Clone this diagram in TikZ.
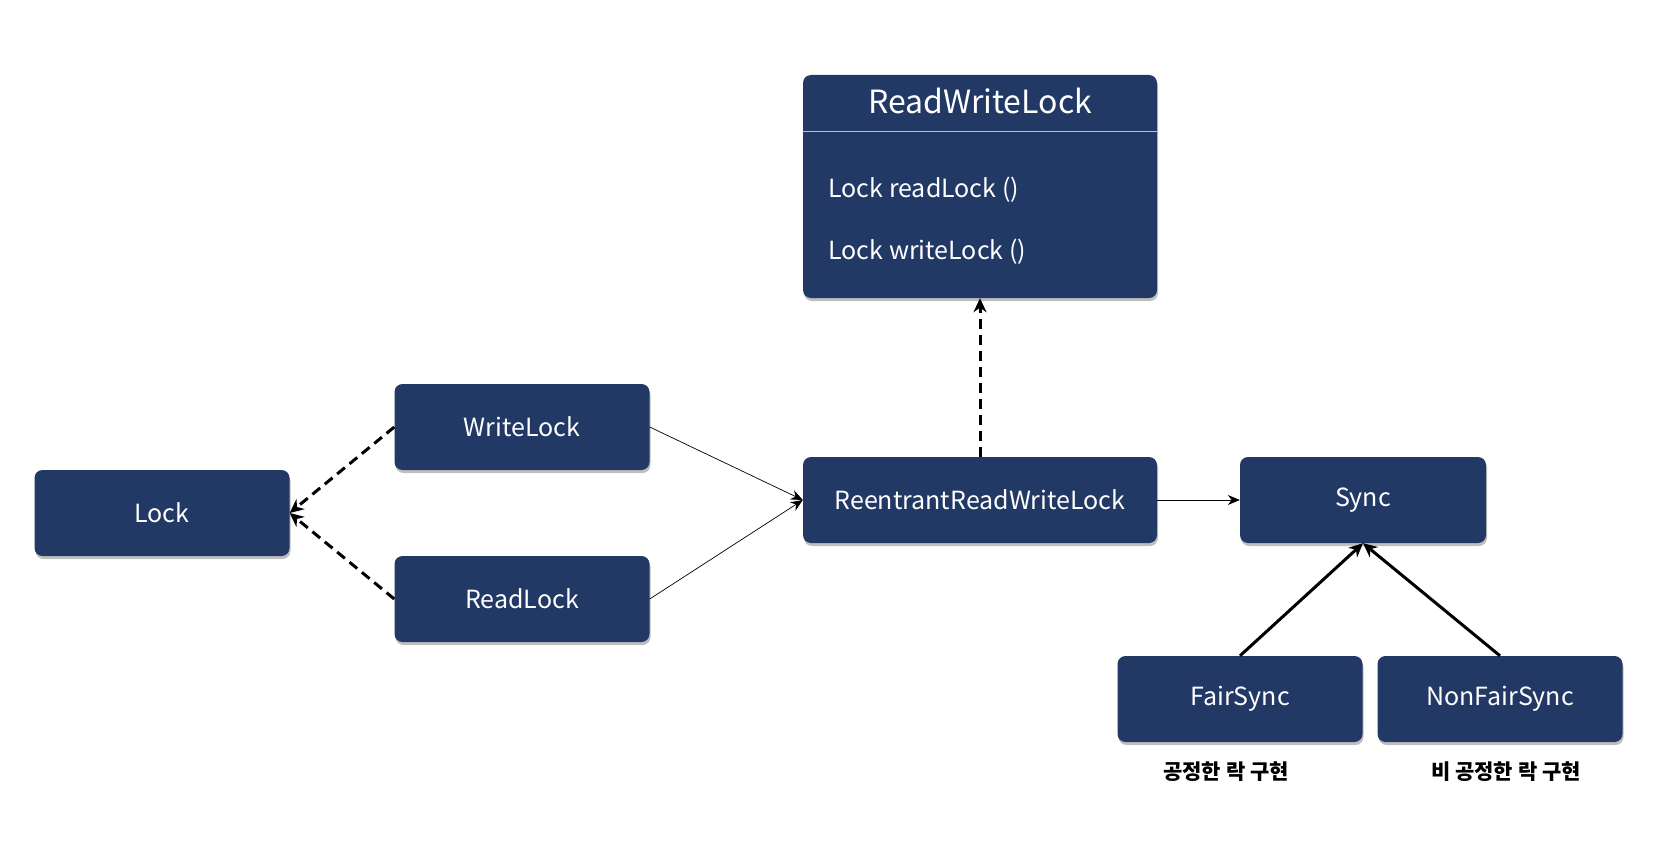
\documentclass[tikz,border=0pt]{standalone}
\usepackage{fontspec}
\setmainfont{Noto Sans CJK KR}
\usetikzlibrary{arrows.meta,shadows}

\begin{document}
\begin{tikzpicture}[x=1pt,y=-1pt,
  box/.style={rectangle,rounded corners=8pt,fill=lk_navy,text=white,
    minimum width=255pt,minimum height=86pt,inner sep=0pt,
    font=\fontsize{25}{30}\selectfont,
    drop shadow={opacity=0.25,shadow xshift=1pt,shadow yshift=-3pt,fill=black}},
  implements/.style={line width=3pt,dash pattern=on 10pt off 6pt,-{Stealth[length=14pt,width=13pt]}},
  uses/.style={line width=0.7pt,-{Stealth[length=12pt,width=10pt]}},
  extends/.style={line width=3pt,-{Stealth[length=14pt,width=13pt]}},
  note/.style={font=\fontsize{21}{24}\selectfont\bfseries,text=black}]
% ------------------------------------------------ colors
\definecolor{lk_navy}{RGB}{34,56,101}  %#223865
\definecolor{lk_line}{RGB}{170,190,225}

\useasboundingbox (0,0) rectangle (1669,856);

% ------------------------------------------------ interface box
\node[box,minimum width=354pt,minimum height=223pt] (rwl) at (980,186.5) {};
\node[text=white,font=\fontsize{32}{36}\selectfont] (rwltitle) at (980,101) {ReadWriteLock};
\draw[line width=0.8pt,color=lk_line] (rwl.west |- 0,131) -- (rwl.east |- 0,131);
\node[text=white,anchor=west,font=\fontsize{25}{30}\selectfont] (rdm) at (825,190) {Lock readLock ()};
\node[text=white,anchor=west,font=\fontsize{25}{30}\selectfont] (wrm) at (825,252) {Lock writeLock ()};

% ------------------------------------------------ classes
\node[box] (lock)  at (162,513) {Lock};
\node[box] (wlock) at (522,427) {WriteLock};
\node[box] (rlock) at (522,599) {ReadLock};
\node[box,minimum width=354pt] (rrwl) at (980,500) {ReentrantReadWriteLock};
\node[box,minimum width=246pt] (sync) at (1363,500) {Sync};
\node[box,minimum width=245pt] (fair)  at (1240,699) {FairSync};
\node[box,minimum width=245pt] (nfair) at (1500,699) {NonFairSync};

\node[note] (fairnote)  at (1226,772) {공정한 락 구현};
\node[note] (nfairnote) at (1506,772) {비 공정한 락 구현};

% ------------------------------------------------ connectors
\draw[implements] (wlock.west) -- (lock.east);
\draw[implements] (rlock.west) -- (lock.east);
\draw[uses] (wlock.east) -- (rrwl.west);
\draw[uses] (rlock.east) -- (rrwl.west);
\draw[implements] (rrwl.north) -- (rwl.south);
\draw[uses] (rrwl.east) -- (sync.west);
\draw[extends] (fair.north) -- (sync.south);
\draw[extends] (nfair.north) -- (sync.south);

\end{tikzpicture}
\end{document}
